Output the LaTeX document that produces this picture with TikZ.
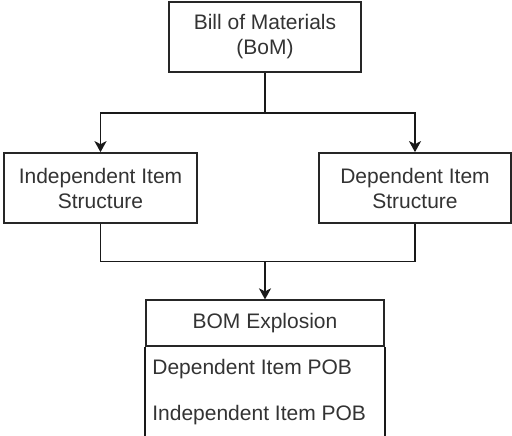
\documentclass[tikz,border=0pt]{standalone}
\usepackage{fontspec}
\setmainfont{Liberation Sans}
\usetikzlibrary{arrows.meta,positioning,calc}

\begin{document}
\begin{tikzpicture}[x=1pt, y=1pt, font=\fontsize{21}{25}\selectfont]

\tikzstyle{cell} = [rectangle, minimum width=192.5pt, minimum height=70pt, text centered, align=center, draw=black!85, line width=1.7pt, text=black!80, on grid]
\tikzstyle{item} = [text=black!80, anchor=west, inner sep=0pt]
\tikzstyle{link} = [line width=1.7pt, draw=black!90]
\tikzstyle{arrow} = [link, -{Stealth[length=11pt,width=12pt,inset=3pt]}]

\useasboundingbox (0,0) rectangle (512,-436);

%% ----------------
%% -- STRUCTURES --
%% ----------------

% BoM
\node (bom) [cell] at (265,-37) {Bill of Materials\\(BoM)};

% item structures
\node (indep) [cell, below left=151pt and 164.5pt of bom] {Independent Item\\Structure};
\node (dep) [cell, below right=151pt and 150pt of bom] {Dependent Item\\Structure};

\coordinate (split) at ($(bom.south)+(0,-40)$);
\draw [link] (bom) -- (split);
\draw [arrow] (split) -| (indep);
\draw [arrow] (split) -| (dep);

%% ---------------
%% -- EXPLOSION --
%% ---------------

\node (explosion) [cell, below=286pt of bom, minimum width=238pt, minimum height=45.5pt] {BOM Explosion};

\node (dep_pob) [item] at ($(explosion.south west)+(7,-22.75)$) {Dependent Item POB};
\node (indep_pob) [item] at ($(dep_pob.west)+(0,-45.5)$) {Independent Item POB};

% list box
\draw [link] (explosion.south west) -- ++(0,-95) -| (explosion.south east);

\coordinate (merge) at ($(explosion.north)+(0,38)$);
\draw [link] (indep) |- (merge);
\draw [link] (dep) |- (merge);
\draw [arrow] (merge) -- (explosion);

\end{tikzpicture}
\end{document}
